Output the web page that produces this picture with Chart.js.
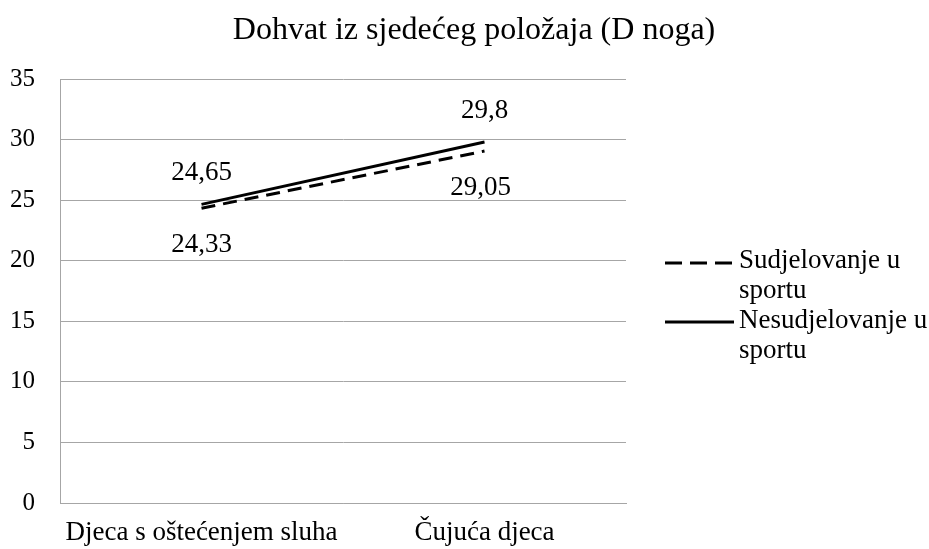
<!DOCTYPE html>
<html>
<head>
<meta charset="utf-8">
<script src="https://cdn.jsdelivr.net/npm/chart.js@4/dist/chart.umd.min.js"></script>
<style>
html,body{margin:0;padding:0;background:#fff;}
#wrap{width:929px;height:549px;position:relative;}
</style>
</head>
<body>
<div id="wrap"><canvas id="c" width="929" height="549"></canvas></div>
<script>
const categories = ['Djeca s oštećenjem sluha', 'Čujuća djeca'];
const seriesNames = ['Sudjelovanje u sportu', 'Nesudjelovanje u sportu'];
const sudjelovanje = [24.33, 29.05];
const nesudjelovanje = [24.65, 29.8];
const yTicks = [0, 5, 10, 15, 20, 25, 30, 35];
const titleText = 'Dohvat iz sjedećeg položaja (D noga)';

const FONT = '"Liberation Serif", "Times New Roman", serif';
const GRID = '#a6a6a6';

const titlePlugin = {
  id: 'manualTitle',
  afterDraw(chart) {
    const ctx = chart.ctx;
    ctx.save();
    ctx.font = '32px ' + FONT;
    ctx.fillStyle = '#000';
    ctx.textAlign = 'center';
    ctx.textBaseline = 'alphabetic';
    ctx.fillText(titleText, 474, 39);
    ctx.restore();
  }
};

const labelPlugin = {
  id: 'valueLabels',
  afterDatasetsDraw(chart) {
    const ctx = chart.ctx;
    ctx.save();
    ctx.font = '27px ' + FONT;
    ctx.fillStyle = '#000';
    ctx.textAlign = 'center';
    ctx.textBaseline = 'alphabetic';
    chart.data.datasets.forEach((ds, i) => {
      const meta = chart.getDatasetMeta(i);
      meta.data.forEach((pt, j) => {
        const txt = String(ds.data[j]).replace('.', ',');
        const dy = ds.labelBelow ? 44 : -24;
        ctx.fillText(txt, pt.x - (ds.labelBelow && j === 1 ? 4 : 0), pt.y + dy);
      });
    });
    ctx.restore();
  }
};

const legendPlugin = {
  id: 'sideLegend',
  afterDraw(chart) {
    const ctx = chart.ctx;
    ctx.save();
    ctx.font = '27px ' + FONT;
    ctx.fillStyle = '#000';
    ctx.textAlign = 'left';
    ctx.textBaseline = 'alphabetic';
    const items = [
      {lines: ['Sudjelovanje u', 'sportu'], y: 263, base: 268, dash: [17, 8]},
      {lines: ['Nesudjelovanje u', 'sportu'], y: 322, base: 328, dash: []}
    ];
    items.forEach(it => {
      ctx.beginPath();
      ctx.setLineDash(it.dash);
      ctx.lineWidth = 3;
      ctx.strokeStyle = '#000';
      ctx.moveTo(665, it.y);
      ctx.lineTo(734, it.y);
      ctx.stroke();
      it.lines.forEach((l, k) => ctx.fillText(l, 739, it.base + k * 30));
    });
    ctx.restore();
  }
};

new Chart(document.getElementById('c'), {
  type: 'line',
  data: {
    labels: categories,
    datasets: [
      {label: seriesNames[0], data: sudjelovanje, borderColor: '#000', borderWidth: 3, borderDash: [14, 8], pointRadius: 0, tension: 0, fill: false, labelBelow: true},
      {label: seriesNames[1], data: nesudjelovanje, borderColor: '#000', borderWidth: 3, pointRadius: 0, tension: 0, fill: false, labelBelow: false}
    ]
  },
  options: {
    responsive: false,
    animation: false,
    layout: {padding: {left: 0, right: 303, top: 79, bottom: 0}},
    plugins: {
      legend: {display: false},
      tooltip: {enabled: false},
      title: {display: false}
    },
    scales: {
      x: {
        offset: true,
        grid: {display: false, drawTicks: false},
        border: {display: true, color: GRID, width: 1},
        ticks: {color: '#000', font: {family: FONT, size: 27}, padding: 14, maxRotation: 0, autoSkip: false},
        afterFit(s) { s.height = 46; }
      },
      y: {
        min: 0, max: 35,
        afterBuildTicks(s) { s.ticks = yTicks.map(v => ({value: v})); },
        grid: {color: GRID, lineWidth: 1, drawTicks: false},
        border: {display: true, color: GRID, width: 1},
        ticks: {color: '#000', font: {family: FONT, size: 25}, padding: 25},
        afterFit(s) { s.width = 60; }
      }
    }
  },
  plugins: [labelPlugin, legendPlugin, titlePlugin]
});
</script>
</body>
</html>
